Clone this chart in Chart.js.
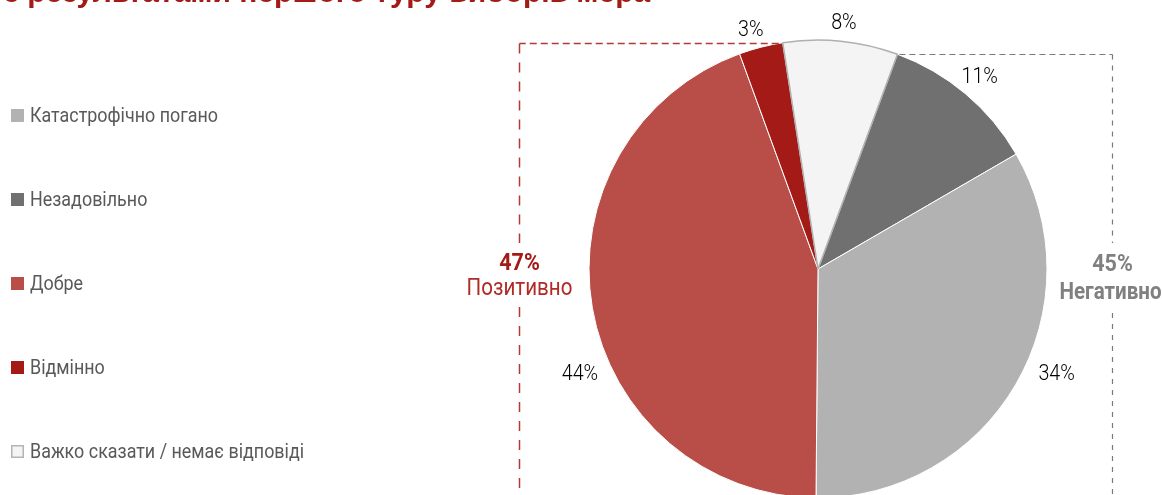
<!DOCTYPE html>
<html>
<head>
<meta charset="utf-8">
<script src="https://cdn.jsdelivr.net/npm/chart.js@4/dist/chart.umd.min.js"></script>
<style>
  html, body { margin: 0; padding: 0; background: #fff; overflow: hidden; }
  #wrap { position: relative; width: 1162px; height: 495px; }
</style>
</head>
<body>
<div id="wrap"><canvas id="pie"></canvas></div>
<script>
// дані (порядок легенди)
var categories = ['Катастрофічно погано', 'Незадовільно', 'Добре', 'Відмінно', 'Важко сказати / немає відповіді'];
var values = [33.5, 11.0, 44.3, 3.1, 8.1];
var labels = ['34%', '11%', '44%', '3%', '8%'];
var positiveGroup = ['Добре', 'Відмінно'];
var negativeGroup = ['Катастрофічно погано', 'Незадовільно'];
var titleText = 'з результатами першого туру виборів мера';

// порядок секторів за годинниковою стрілкою
var sliceOrder = [1, 0, 2, 3, 4];

var colors = ['#b2b2b2', '#707070', '#b94d48', '#a31a17', '#f4f4f4'];
var borders = ['#ffffff', '#ffffff', '#ffffff', '#ffffff', '#b0b0b0'];
var borderWidths = [1, 1, 1, 1, 1.5];
// зсув підписів: [кут у градусах, відступ від краю]
var labelNudge = [[-6.3, 32], [0, 22], [-14.2, 31.5], [-1.3, 19], [0.3, 18]];

var family = 'Roboto, "DejaVu Sans", sans-serif';
var squeeze = 1;

function sumLabels(group) {
    var s = 0;
    group.forEach(function (name) {
        s += parseInt(labels[categories.indexOf(name)], 10);
    });
    return s + '%';
}

// вузький текст (немає вузького шрифту — стискаємо по горизонталі)
function narrowText(ctx, text, x, y) {
    ctx.save();
    ctx.translate(x, y);
    ctx.scale(squeeze, 1);
    ctx.fillText(text, 0, 0);
    ctx.restore();
}

var overlay = {
    id: 'overlay',
    afterDatasetsDraw: function (chart) {
        var ctx = chart.ctx;
        var arcs = chart.getDatasetMeta(0).data;
        var cx = arcs[0].x, cy = arcs[0].y, R = arcs[0].outerRadius;
        var H = chart.height;

        ctx.save();

        // заголовок (обрізаний зверху)
        ctx.font = 'bold 30px "Liberation Sans", Arial, sans-serif';
        ctx.fillStyle = '#a31a17';
        ctx.textAlign = 'left';
        ctx.textBaseline = 'alphabetic';
        ctx.fillText(titleText, 4, 2);

        // легенда
        ctx.font = '20px ' + family;
        squeeze = 188 / ctx.measureText(categories[0]).width;
        ctx.textBaseline = 'middle';
        for (var i = 0; i < categories.length; i++) {
            var y = 115.5 + i * 84;
            ctx.fillStyle = colors[i];
            ctx.fillRect(11, y - 6.5, 13, 13);
            if (i === 4) {
                ctx.strokeStyle = '#b4b4b4';
                ctx.lineWidth = 1.5;
                ctx.strokeRect(11.75, y - 5.75, 11.5, 11.5);
            }
            ctx.fillStyle = '#595959';
            narrowText(ctx, categories[i], 30, y + 1);
        }

        // підписи секторів
        ctx.font = '300 22px ' + family;
        ctx.fillStyle = '#000000';
        ctx.textAlign = 'center';
        sliceOrder.forEach(function (catIdx, k) {
            var a = arcs[k];
            var mid = (a.startAngle + a.endAngle) / 2 + labelNudge[catIdx][0] * Math.PI / 180;
            var r = R + labelNudge[catIdx][1];
            narrowText(ctx, labels[catIdx], cx + r * Math.cos(mid), cy + r * Math.sin(mid));
        });

        // пунктирні рамки
        var posArc = arcs[sliceOrder.indexOf(categories.indexOf('Відмінно'))];
        var negArc = arcs[sliceOrder.indexOf(categories.indexOf('Незадовільно'))];
        var px = cx + R * Math.cos(posArc.endAngle), py = cy + R * Math.sin(posArc.endAngle);
        var nx = cx + R * Math.cos(negArc.startAngle), ny = cy + R * Math.sin(negArc.startAngle);
        var leftX = Math.round(cx - R * 1.306) + 0.5;
        var rightX = Math.round(cx + R * 1.284) + 0.5;

        ctx.strokeStyle = '#b03a36';
        ctx.lineWidth = 1.5;
        ctx.setLineDash([7, 4]);
        ctx.beginPath();
        ctx.moveTo(px - 4, Math.round(py) + 0.5);
        ctx.lineTo(leftX, Math.round(py) + 0.5);
        ctx.stroke();
        ctx.setLineDash([10, 9]);
        ctx.beginPath();
        ctx.moveTo(leftX, Math.round(py) + 0.5);
        ctx.lineTo(leftX, cy - 26);
        ctx.moveTo(leftX, cy + 38);
        ctx.lineTo(leftX, H + 10);
        ctx.stroke();

        ctx.strokeStyle = '#7a7a7a';
        ctx.lineWidth = 1.2;
        ctx.setLineDash([6, 4]);
        ctx.beginPath();
        ctx.moveTo(nx + 2, Math.round(ny) + 0.5);
        ctx.lineTo(rightX, Math.round(ny) + 0.5);
        ctx.stroke();
        ctx.setLineDash([5, 6]);
        ctx.beginPath();
        ctx.moveTo(rightX, Math.round(ny) + 0.5);
        ctx.lineTo(rightX, cy - 26);
        ctx.moveTo(rightX, cy + 44);
        ctx.lineTo(rightX, H + 10);
        ctx.stroke();
        ctx.setLineDash([]);

        // групові підписи
        ctx.fillStyle = '#a31a17';
        ctx.font = 'bold 24px ' + family;
        narrowText(ctx, sumLabels(positiveGroup), leftX, cy - 5);
        ctx.font = '23px ' + family;
        ctx.fillStyle = '#b02a26';
        narrowText(ctx, 'Позитивно', leftX, cy + 20);

        ctx.fillStyle = '#808080';
        ctx.font = 'bold 24px ' + family;
        narrowText(ctx, sumLabels(negativeGroup), rightX, cy - 4);
        ctx.font = 'bold 23px ' + family;
        narrowText(ctx, 'Негативно', rightX - 2, cy + 24);

        ctx.restore();
    }
};

var ctxP = document.getElementById('pie').getContext('2d');
var chart = new Chart(ctxP, {
    type: 'pie',
    data: {
        labels: sliceOrder.map(function (i) { return categories[i]; }),
        datasets: [{
            data: sliceOrder.map(function (i) { return values[i]; }),
            backgroundColor: sliceOrder.map(function (i) { return colors[i]; }),
            borderColor: sliceOrder.map(function (i) { return borders[i]; }),
            borderWidth: sliceOrder.map(function (i) { return borderWidths[i]; }),
            hoverOffset: 0,
            offset: 0,
            clip: false
        }]
    },
    options: {
        responsive: true,
        maintainAspectRatio: false,
        devicePixelRatio: 1,
        animation: false,
        rotation: 20.3,
        radius: 229,
        layout: {
            padding: { left: 474, right: 0, top: 43, bottom: 0 }
        },
        plugins: {
            legend: { display: false },
            tooltip: { enabled: false }
        }
    },
    plugins: [overlay]
});
</script>
</body>
</html>
